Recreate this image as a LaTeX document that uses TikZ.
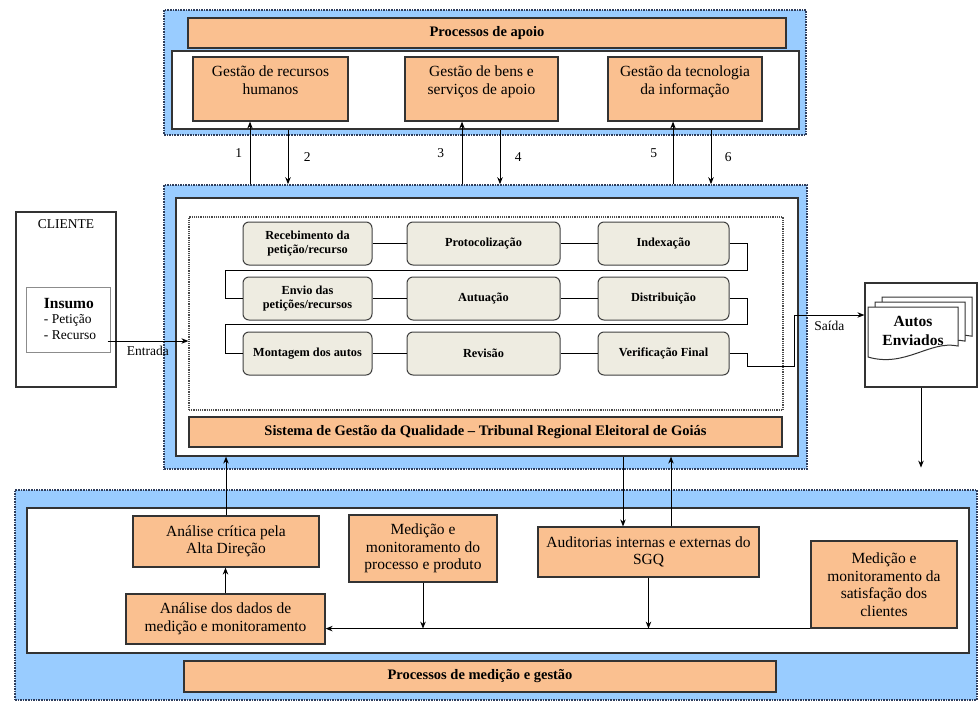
\documentclass[tikz,border=0pt]{standalone}
\usepackage{fontspec}
\setmainfont{Liberation Serif}
\usepackage{tikz}
\usepackage{xcolor}
\usetikzlibrary{calc,arrows.meta}

\definecolor{skyblue}{HTML}{99CCFF}
\definecolor{peach}{HTML}{FAC090}
\definecolor{stepgrey}{HTML}{EEECE1}
\definecolor{dotcol}{HTML}{2F3E5C}

\newcommand{\boxfont}{\fontsize{15.5}{17.5}\selectfont}
\newcommand{\barfont}{\bfseries\fontsize{14.5}{16}\selectfont}
\newcommand{\stepfont}{\bfseries\fontsize{12.3}{14}\selectfont}
\newcommand{\smallfont}{\fontsize{13.5}{15.5}\selectfont}

\tikzstyle{bluebox} = [rectangle, inner sep=0pt, fill=skyblue, draw=dotcol, densely dotted, line width=1.6pt]
\tikzstyle{whitebox} = [rectangle, inner sep=0pt, fill=white, draw=black!80, line width=1.2pt]
\tikzstyle{dotbox} = [rectangle, inner sep=0pt, draw=black!70, densely dotted, line width=1.2pt]
\tikzstyle{orangebox} = [rectangle, inner sep=2pt, fill=peach, draw=black!80, line width=1.2pt, text centered, align=center, font=\boxfont]
\tikzstyle{barbox} = [rectangle, inner sep=0pt, fill=peach, draw=black!80, line width=1.2pt, text centered, font=\barfont]
\tikzstyle{stepbox} = [rectangle, rounded corners=6pt, minimum height=43, fill=stepgrey, draw=black!75, line width=1pt, align=center, font=\stepfont]
\tikzstyle{arrow} = [line width=1pt, ->, >={Stealth[length=7pt, width=5.5pt]}]
\tikzstyle{line} = [line width=1pt]

\begin{document}
\begin{tikzpicture}[x=1pt, y=-1pt]
        \useasboundingbox (0,0) rectangle (978,702);

        % Processos de apoio
        \draw (485,72.5) node[bluebox, minimum width=642, minimum height=125] (apoio) {};
        \draw (487,33) node[barbox, minimum width=598, minimum height=30] (apoiobar) {Processos de apoio};
        \draw (485.5,90) node[whitebox, minimum width=627, minimum height=78] (apoioin) {};
        \draw (270.5,89) node[orangebox, minimum width=155, minimum height=64] (rh) {Gestão de recursos\\humanos\\\mbox{}};
        \draw (481.5,89) node[orangebox, minimum width=153, minimum height=64] (bens) {Gestão de bens e\\serviços de apoio\\\mbox{}};
        \draw (685,89) node[orangebox, minimum width=154, minimum height=64] (ti) {Gestão da tecnologia\\da informação\\\mbox{}};

        % Sistema de gestao
        \draw (485.5,327) node[bluebox, minimum width=643, minimum height=284] (sgq) {};
        \draw (487,327) node[whitebox, minimum width=622, minimum height=258] (sgqin) {};
        \draw (486,313.5) node[dotbox, minimum width=594, minimum height=193] (area) {};
        \draw (485.5,432) node[barbox, minimum width=593, minimum height=30] (sgqbar) {Sistema de Gestão da Qualidade -- Tribunal Regional Eleitoral de Goiás};

        \draw (307.5,243.5) node[stepbox, minimum width=129] (receb) {Recebimento da\\petição/recurso};
        \draw (483.5,243.5) node[stepbox, minimum width=153] (protoc) {Protocolização};
        \draw (663.5,243.5) node[stepbox, minimum width=131] (index) {Indexação};
        \draw (307.5,298.5) node[stepbox, minimum width=129] (envio) {Envio das\\petições/recursos};
        \draw (483.5,298.5) node[stepbox, minimum width=153] (autua) {Autuação};
        \draw (663.5,298.5) node[stepbox, minimum width=131] (distrib) {Distribuição};
        \draw (307.5,353.5) node[stepbox, minimum width=129] (montag) {Montagem dos autos};
        \draw (483.5,353.5) node[stepbox, minimum width=153] (revis) {Revisão};
        \draw (663.5,353.5) node[stepbox, minimum width=131] (verif) {Verificação Final};

        \draw[line] (receb) -- (protoc);
        \draw[line] (protoc) -- (index);
        \draw[line] (envio) -- (autua);
        \draw[line] (autua) -- (distrib);
        \draw[line] (montag) -- (revis);
        \draw[line] (revis) -- (verif);
        \draw[line] (index.east) -- ++(18,0) -- ++(0,27) -| ($(envio.west)+(-17,0)$) -- (envio.west);
        \draw[line] (distrib.east) -- ++(18,0) -- ++(0,26) -| ($(montag.west)+(-17,0)$) -- (montag.west);

        % Cliente
        \draw (66,299.5) node[whitebox, minimum width=100, minimum height=175] (cliente) {};
        \draw (cliente.north) node[below=5pt, font=\smallfont] (clientetxt) {CLIENTE};
        \draw (68,319.5) node[rectangle, inner sep=0pt, fill=white, draw=black!45, line width=1pt, minimum width=84, minimum height=65] (insumo) {};
        \draw ([xshift=2pt, yshift=1pt]insumo.center) node[align=left, font=\smallfont] (insumotxt) {{\bfseries\fontsize{15.5}{16}\selectfont Insumo}\\- Petição\\- Recurso};
        \coordinate (entr) at ($(insumo.east)+(-3,21.5)$);

        % Autos enviados
        \draw (921,335) node[whitebox, minimum width=112, minimum height=104] (autos) {};
        \foreach \d in {14,7,0}
            \filldraw[fill=white, draw=black!80, line width=1pt, xshift=\d, yshift=0.7*\d]
                (868,357) -- (868,307) -- (958,307) -- (958,346) .. controls (930,340) and (905,368) .. (868,357) -- cycle;
        \draw (913,331) node[align=center, font=\bfseries\fontsize{15.5}{19}\selectfont] (autostxt) {Autos\\Enviados};
        \coordinate (autosout) at ($(autos.south)+(0,80)$);

        % Processos de medicao
        \draw (496,595) node[bluebox, minimum width=962, minimum height=210] (med) {};
        \draw (498,580.5) node[whitebox, minimum width=942, minimum height=145] (medin) {};
        \draw (480,676.5) node[barbox, minimum width=592, minimum height=31] (medbar) {Processos de medição e gestão};
        \draw (226,541.5) node[orangebox, minimum width=186, minimum height=51] (critica) {Análise crítica pela\\Alta Direção};
        \draw (225.5,619) node[orangebox, minimum width=199, minimum height=50] (dados) {Análise dos dados de\\medição e monitoramento};
        \draw (423,548.5) node[orangebox, minimum width=148, minimum height=67] (medproc) {Medição e\\monitoramento do\\processo e produto};
        \draw (648.5,552) node[orangebox, minimum width=221, minimum height=50] (audit) {Auditorias internas e externas do\\SGQ};
        \draw (884,584.5) node[orangebox, minimum width=146, minimum height=87] (satisf) {Medição e\\monitoramento da\\satisfação dos\\clientes};

        % Arrows
        \coordinate (up1) at ([xshift=-20.5pt]rh.south);
        \coordinate (dn2) at ([xshift=17.5pt]rh.south);
        \coordinate (up3) at ([xshift=-19.5pt]bens.south);
        \coordinate (dn4) at ([xshift=18.5pt]bens.south);
        \coordinate (up5) at ([xshift=-12pt]ti.south);
        \coordinate (dn6) at ([xshift=26pt]ti.south);
        \draw[arrow] (up1 |- sgq.north) -- (up1) node[midway, left=4pt, font=\smallfont] {1};
        \draw[arrow] (dn2 |- apoioin.south) -- (dn2 |- sgq.north) node[midway, right=12pt, font=\smallfont] {2};
        \draw[arrow] (up3 |- sgq.north) -- (up3) node[midway, left=14pt, font=\smallfont] {3};
        \draw[arrow] (dn4 |- apoioin.south) -- (dn4 |- sgq.north) node[midway, right=11pt, font=\smallfont] {4};
        \draw[arrow] (up5 |- sgq.north) -- (up5) node[midway, left=12pt, font=\smallfont] {5};
        \draw[arrow] (dn6 |- apoioin.south) -- (dn6 |- sgq.north) node[midway, right=10pt, font=\smallfont] {6};

        \draw[arrow] (entr) -- (entr -| area.west) node[midway, below=1pt, font=\smallfont] {Entrada};
        \draw[arrow] (verif.east) -- ++(18,0) -- ++(0,12.5) -- ++(47,0) |- ($(autos.west)+(0,-20)$) node[pos=0.75, below=2pt, font=\smallfont] {Saída};
        \draw[arrow] (autos.south) -- (autosout);

        \coordinate (auddown) at ([xshift=-25.5pt]audit.north);
        \coordinate (audup) at ([xshift=22.5pt]audit.north);
        \draw[arrow] (dados.north) -- (dados.north |- critica.south);
        \draw[arrow] (critica.north) -- (critica.north |- sgqin.south);
        \draw[arrow] (auddown |- sgqin.south) -- (auddown);
        \draw[arrow] (audup) -- (audup |- sgqin.south);
        \draw[arrow] (satisf.south west) -- (satisf.south west -| dados.east);
        \draw[arrow] (medproc.south) -- (medproc.south |- satisf.south west);
        \draw[arrow] (audit.south) -- (audit.south |- satisf.south west);
    \end{tikzpicture}
\end{document}
